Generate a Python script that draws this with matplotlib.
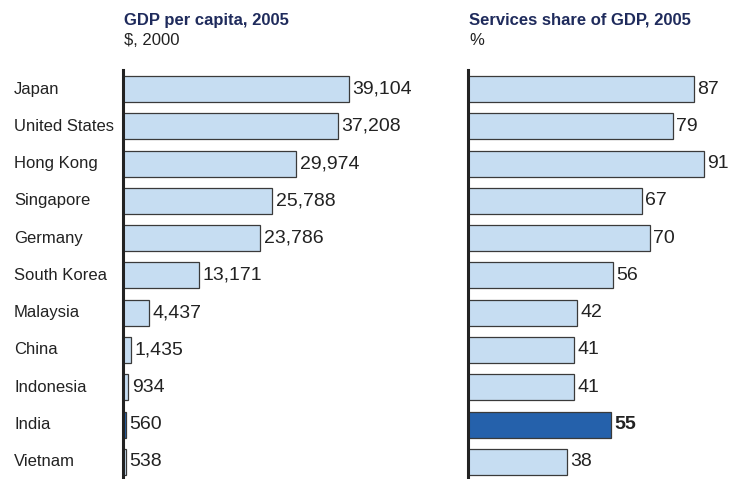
import matplotlib
matplotlib.use("Agg")
import matplotlib.pyplot as plt

plt.rcParams['font.family'] = ['Liberation Sans', 'DejaVu Sans']

countries = ["Japan", "United States", "Hong Kong", "Singapore", "Germany",
             "South Korea", "Malaysia", "China", "Indonesia", "India", "Vietnam"]
gdp_per_capita = [39104, 37208, 29974, 25788, 23786, 13171, 4437, 1435, 934, 560, 538]
services_share = [87, 79, 91, 67, 70, 56, 42, 41, 41, 55, 38]
highlight = "India"

light = "#C6DDF2"
dark = "#2561AB"
edge = "#3A3A3A"
navy = "#1F2B5C"

W, H = 731, 479
fig = plt.figure(figsize=(W / 100, H / 100), dpi=100)


def px_axes(x0, x1, y0, y1):
    # axes from a pixel box, origin top-left
    return fig.add_axes([x0 / W, 1 - y1 / H, (x1 - x0) / W, (y1 - y0) / H])


def draw_panel(ax, values, xmax, fmt, title, unit, show_names, bold_highlight):
    n = len(values)
    ypos = list(range(n))
    colors = [dark if c == highlight else light for c in countries]
    ax.barh(ypos, values, height=0.7, color=colors, edgecolor=edge, linewidth=0.9)
    ax.set_xlim(0, xmax)
    ax.set_ylim(n - 0.54, -0.51)
    for y, v, c in zip(ypos, values, countries):
        bold = bold_highlight and c == highlight
        ax.annotate(fmt.format(v), (v, y), xytext=(2.5, 0), textcoords="offset points",
                    va="center", ha="left", fontsize=14, color="#222222",
                    fontweight="bold" if bold else "normal")
    for s in ["top", "right", "bottom"]:
        ax.spines[s].set_visible(False)
    ax.spines["left"].set_linewidth(2.2)
    ax.spines["left"].set_color("#222222")
    ax.set_xticks([])
    ax.set_yticks([])
    if show_names:
        for y, c in zip(ypos, countries):
            ax.annotate(c, (0, y), xytext=(-109 * 0.72, 0), textcoords="offset points",
                        va="center", ha="left", fontsize=12, color="#222222")
    ax.annotate(title, (0, 1), xycoords="axes fraction", xytext=(1, 36),
                textcoords="offset points", fontsize=12, fontweight="bold",
                color=navy, ha="left", va="center")
    ax.annotate(unit, (0, 1), xycoords="axes fraction", xytext=(1, 21),
                textcoords="offset points", fontsize=12, color="#222222",
                ha="left", va="center")


ax1 = px_axes(123, 440, 70, 479)
draw_panel(ax1, gdp_per_capita, 317 / 226 * 39104, "{:,}",
           "GDP per capita, 2005", "$, 2000", True, False)

ax2 = px_axes(468, 731, 70, 479)
draw_panel(ax2, services_share, 263 / 236 * 91, "{:d}",
           "Services share of GDP, 2005", "%", False, True)

fig.savefig("out.png", dpi=100)
